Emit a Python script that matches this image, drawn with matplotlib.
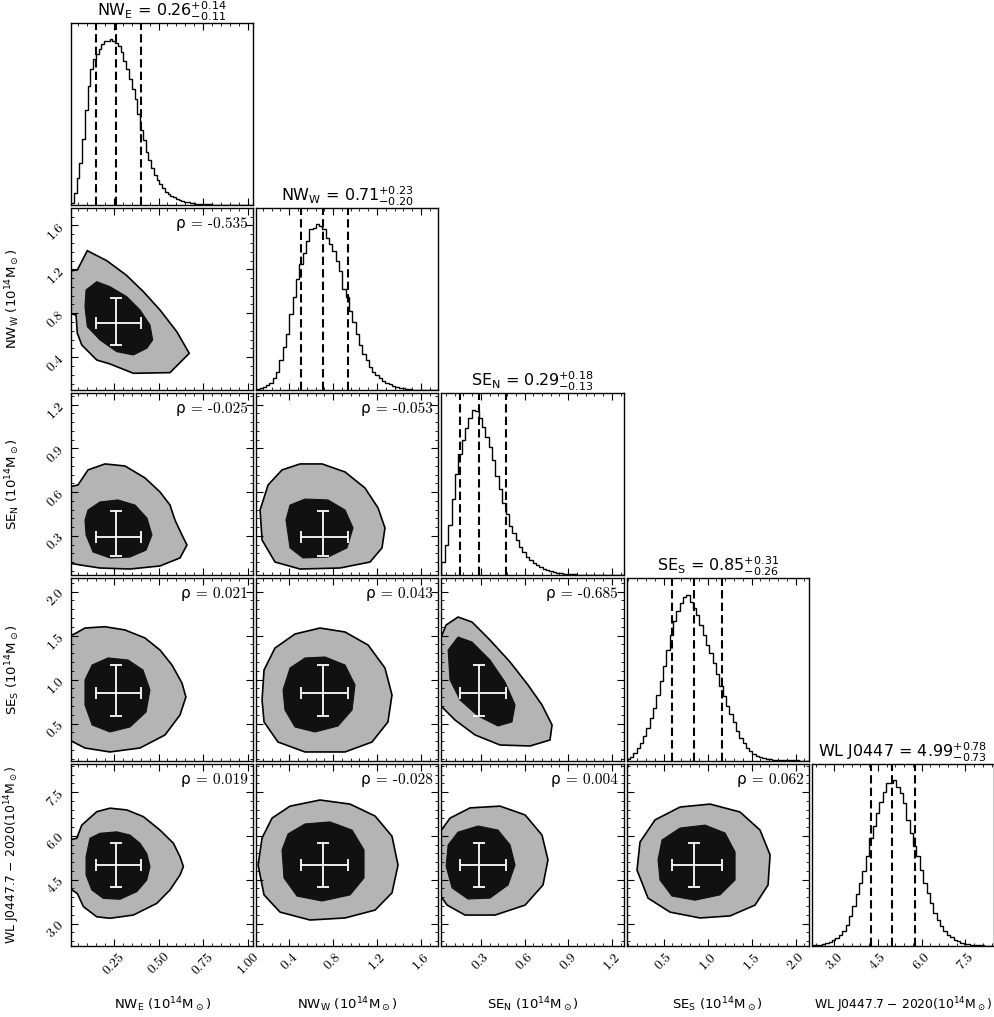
import numpy as np
import matplotlib.pyplot as plt
from matplotlib.ticker import FixedLocator, AutoMinorLocator

plt.rcParams['font.family'] = ['cmr10', 'DejaVu Sans']
plt.rcParams['mathtext.fontset'] = 'dejavusans'
plt.rcParams['axes.unicode_minus'] = False

# variables
labels = [r'NW$_\mathrm{E}$ (10$^{14}$M$_\odot$)', r'NW$_\mathrm{W}$ (10$^{14}$M$_\odot$)',
          r'SE$_\mathrm{N}$ (10$^{14}$M$_\odot$)', r'SE$_\mathrm{S}$ (10$^{14}$M$_\odot$)',
          r'WL J0447.7 $-$ 2020(10$^{14}$M$_\odot$)']
label_sizes = [9.5, 9.5, 9.5, 9.5, 8.9]
short = [r'NW$_\mathrm{E}$', r'NW$_\mathrm{W}$', r'SE$_\mathrm{N}$', r'SE$_\mathrm{S}$', 'WL J0447']
ranges = [(0.01, 1.03), (0.10, 1.76), (0.03, 1.28), (0.08, 2.15), (2.24, 8.48)]
medians = [0.26, 0.71, 0.29, 0.85, 4.99]
err_hi = [0.14, 0.23, 0.18, 0.31, 0.78]
err_lo = [0.11, 0.20, 0.13, 0.26, 0.73]
ticks = [[0.25, 0.50, 0.75, 1.00], [0.4, 0.8, 1.2, 1.6], [0.3, 0.6, 0.9, 1.2],
         [0.5, 1.0, 1.5, 2.0], [3.0, 4.5, 6.0, 7.5]]
ticklabels = [['0.25', '0.50', '0.75', '1.00'], ['0.4', '0.8', '1.2', '1.6'],
              ['0.3', '0.6', '0.9', '1.2'], ['0.5', '1.0', '1.5', '2.0'],
              ['3.0', '4.5', '6.0', '7.5']]

# marginal histograms (relative heights)
hist_nwe = [0.01, 0.07, 0.16, 0.25, 0.40, 0.57, 0.72, 0.82, 0.88, 0.91, 0.94, 0.97, 0.99, 0.99,
            1.00, 0.99, 0.98, 0.96, 0.92, 0.87, 0.82, 0.76, 0.70, 0.64, 0.55, 0.45, 0.39, 0.32,
            0.27, 0.22, 0.18, 0.15, 0.125, 0.10, 0.08, 0.068, 0.055, 0.045, 0.037, 0.03, 0.024,
            0.019, 0.015, 0.012, 0.010, 0.008, 0.006, 0.005, 0.004, 0.003, 0.003, 0.002, 0.002,
            0.002, 0.002, 0.001, 0.001, 0.001, 0.001, 0.001, 0.0, 0.0, 0.0, 0.0, 0.0, 0.0]
hist_nww = [0.004, 0.01, 0.016, 0.03, 0.044, 0.07, 0.11, 0.18, 0.26, 0.34, 0.46, 0.56, 0.67,
            0.76, 0.83, 0.90, 0.97, 0.98, 1.00, 0.99, 0.97, 0.92, 0.88, 0.84, 0.78, 0.72, 0.61,
            0.56, 0.48, 0.41, 0.34, 0.27, 0.22, 0.18, 0.14, 0.11, 0.09, 0.07, 0.054, 0.044,
            0.034, 0.024, 0.02, 0.014, 0.01, 0.006, 0.004, 0.003, 0.002, 0.002, 0.001, 0.001,
            0.0, 0.0, 0.0]
hist_sen = [0.08, 0.18, 0.30, 0.45, 0.60, 0.72, 0.80, 0.87, 0.93, 0.98, 0.97, 0.93, 0.88, 0.82,
            0.76, 0.68, 0.59, 0.51, 0.43, 0.36, 0.29, 0.25, 0.21, 0.17, 0.14, 0.11, 0.09, 0.075,
            0.06, 0.05, 0.04, 0.032, 0.025, 0.02, 0.016, 0.012, 0.01, 0.008, 0.006, 0.005,
            0.004, 0.003, 0.003, 0.002, 0.002, 0.001, 0.001, 0.001, 0.001, 0.0, 0.0, 0.0, 0.0,
            0.0]
hist_ses = [0.008, 0.024, 0.044, 0.075, 0.105, 0.146, 0.196, 0.257, 0.317, 0.398, 0.48, 0.57,
            0.67, 0.76, 0.84, 0.90, 0.95, 0.985, 1.0, 0.955, 0.92, 0.88, 0.82, 0.76, 0.70, 0.65,
            0.59, 0.52, 0.45, 0.39, 0.33, 0.28, 0.23, 0.18, 0.135, 0.105, 0.075, 0.055, 0.04,
            0.028, 0.02, 0.014, 0.01, 0.008, 0.006, 0.004, 0.004, 0.002, 0.002, 0.002, 0.001,
            0.001, 0.0, 0.0, 0.0]
hist_wl = [0.002, 0.004, 0.006, 0.01, 0.016, 0.022, 0.032, 0.046, 0.067, 0.087, 0.127, 0.177,
           0.238, 0.31, 0.38, 0.45, 0.54, 0.65, 0.72, 0.80, 0.87, 0.93, 0.98, 0.98, 1.0, 0.96,
           0.92, 0.86, 0.76, 0.68, 0.60, 0.54, 0.46, 0.38, 0.32, 0.26, 0.20, 0.157, 0.117,
           0.087, 0.067, 0.05, 0.036, 0.026, 0.018, 0.012, 0.008, 0.006, 0.004, 0.002, 0.002,
           0.001, 0.0, 0.0]
hists = [hist_nwe, hist_nww, hist_sen, hist_ses, hist_wl]

# correlation coefficients
rho = {(1, 0): '-0.535', (2, 0): '-0.025', (2, 1): '-0.053',
       (3, 0): '0.021', (3, 1): '0.043', (3, 2): '-0.685',
       (4, 0): '0.019', (4, 1): '-0.028', (4, 2): '0.004', (4, 3): '0.062'}

# contour outlines (outer x, outer y, inner x, inner y)
contours = {
    (1, 0): ([0.0, 0.045, 0.101, 0.210, 0.318, 0.415, 0.508, 0.602, 0.672, 0.564, 0.359, 0.228,
              0.154, 0.070, 0.045, 0.038, 0.0],
             [1.185, 1.194, 1.370, 1.279, 1.149, 0.997, 0.830, 0.632, 0.435, 0.259, 0.253, 0.338,
              0.374, 0.511, 0.618, 0.784, 0.800],
             [0.094, 0.154, 0.228, 0.322, 0.396, 0.452, 0.467, 0.434, 0.359, 0.266, 0.172, 0.101, 0.088],
             [1.012, 1.088, 1.042, 0.951, 0.830, 0.693, 0.557, 0.481, 0.420, 0.450, 0.557, 0.678, 0.860]),
    (2, 0): ([0.0, 0.049, 0.105, 0.200, 0.312, 0.424, 0.508, 0.564, 0.592, 0.631, 0.659, 0.620,
              0.508, 0.340, 0.172, 0.060, 0.0],
             [0.636, 0.650, 0.753, 0.794, 0.780, 0.698, 0.602, 0.512, 0.409, 0.307, 0.238, 0.149,
              0.094, 0.073, 0.080, 0.101, 0.114],
             [0.105, 0.172, 0.273, 0.368, 0.435, 0.463, 0.430, 0.340, 0.228, 0.133, 0.094, 0.088],
             [0.478, 0.533, 0.547, 0.512, 0.423, 0.307, 0.203, 0.155, 0.149, 0.190, 0.307, 0.409]),
    (2, 1): ([0.153, 0.135, 0.208, 0.335, 0.499, 0.700, 0.909, 1.091, 1.210, 1.273, 1.246, 1.137,
              0.863, 0.499, 0.271],
             [0.272, 0.478, 0.650, 0.753, 0.794, 0.794, 0.739, 0.629, 0.492, 0.355, 0.218, 0.121,
              0.080, 0.073, 0.121],
             [0.371, 0.408, 0.545, 0.754, 0.909, 0.982, 0.927, 0.754, 0.526, 0.408],
             [0.409, 0.512, 0.553, 0.547, 0.478, 0.355, 0.218, 0.155, 0.149, 0.218]),
    (3, 0): ([0.0, 0.040, 0.088, 0.200, 0.312, 0.424, 0.508, 0.575, 0.631, 0.653, 0.620, 0.536,
              0.396, 0.228, 0.088, 0.0],
             [1.49, 1.53, 1.585, 1.600, 1.563, 1.472, 1.335, 1.165, 0.960, 0.801, 0.597, 0.370,
              0.222, 0.177, 0.222, 0.313],
             [0.088, 0.128, 0.217, 0.329, 0.413, 0.452, 0.430, 0.340, 0.228, 0.128, 0.088],
             [0.995, 1.165, 1.245, 1.222, 1.108, 0.881, 0.631, 0.461, 0.404, 0.484, 0.711]),
    (3, 1): ([0.153, 0.171, 0.271, 0.453, 0.681, 0.909, 1.119, 1.273, 1.337, 1.300, 1.155, 0.909,
              0.544, 0.298, 0.171],
             [0.768, 1.108, 1.358, 1.517, 1.585, 1.540, 1.392, 1.131, 0.824, 0.518, 0.290, 0.177,
              0.177, 0.290, 0.518],
             [0.344, 0.408, 0.545, 0.727, 0.909, 1.000, 0.973, 0.845, 0.636, 0.453, 0.362],
             [0.881, 1.131, 1.245, 1.256, 1.165, 0.938, 0.654, 0.472, 0.404, 0.461, 0.654]),
    (3, 2): ([0.02, 0.062, 0.144, 0.240, 0.363, 0.501, 0.624, 0.720, 0.789, 0.775, 0.638, 0.432,
              0.261, 0.123, 0.02],
             [1.449, 1.619, 1.710, 1.653, 1.449, 1.199, 0.938, 0.711, 0.484, 0.313, 0.245, 0.256,
              0.370, 0.540, 0.711],
             [0.076, 0.144, 0.240, 0.363, 0.466, 0.535, 0.514, 0.418, 0.281, 0.158, 0.089],
             [1.335, 1.483, 1.426, 1.222, 0.972, 0.711, 0.518, 0.472, 0.586, 0.768, 0.995]),
    (4, 0): ([0.0, 0.042, 0.070, 0.154, 0.228, 0.322, 0.415, 0.508, 0.583, 0.620, 0.639, 0.620,
              0.564, 0.490, 0.359, 0.228, 0.154, 0.079, 0.045, 0.0],
             [5.86, 5.92, 6.37, 6.83, 6.95, 6.89, 6.66, 6.20, 5.75, 5.29, 4.95, 4.66, 4.15, 3.69,
              3.29, 3.18, 3.23, 3.58, 4.03, 4.21],
             [0.116, 0.172, 0.266, 0.340, 0.396, 0.434, 0.452, 0.434, 0.378, 0.284, 0.191, 0.126,
              0.094, 0.094],
             [5.92, 6.09, 6.14, 6.03, 5.75, 5.40, 4.95, 4.49, 4.09, 3.83, 3.86, 4.15, 4.66, 5.29]),
    (4, 1): ([0.117, 0.153, 0.244, 0.408, 0.681, 0.955, 1.183, 1.337, 1.392, 1.337, 1.183, 0.909,
              0.590, 0.317, 0.171],
             [5.00, 5.93, 6.61, 7.02, 7.23, 7.09, 6.68, 5.99, 5.00, 4.05, 3.46, 3.19, 3.12, 3.39, 3.98],
             [0.335, 0.390, 0.545, 0.772, 0.973, 1.082, 1.082, 0.955, 0.700, 0.472, 0.353],
             [5.52, 6.07, 6.41, 6.48, 6.20, 5.52, 4.56, 3.98, 3.77, 3.94, 4.56]),
    (4, 2): ([0.02, 0.089, 0.226, 0.432, 0.604, 0.720, 0.761, 0.727, 0.604, 0.398, 0.192, 0.069, 0.02],
             [6.13, 6.61, 6.96, 7.02, 6.72, 6.03, 5.18, 4.32, 3.63, 3.29, 3.29, 3.63, 3.98],
             [0.076, 0.144, 0.281, 0.418, 0.501, 0.535, 0.487, 0.363, 0.212, 0.103, 0.062],
             [5.69, 6.13, 6.34, 6.20, 5.69, 5.00, 4.32, 3.87, 3.84, 4.22, 4.97]),
    (4, 3): ([0.198, 0.232, 0.403, 0.687, 1.028, 1.368, 1.596, 1.710, 1.687, 1.539, 1.255, 0.914,
              0.573, 0.323],
             [4.83, 5.79, 6.55, 6.99, 7.09, 6.82, 6.20, 5.35, 4.32, 3.63, 3.26, 3.19, 3.39, 3.87],
             [0.437, 0.482, 0.687, 0.971, 1.198, 1.312, 1.312, 1.141, 0.857, 0.596, 0.459],
             [5.18, 5.86, 6.27, 6.37, 6.10, 5.45, 4.49, 3.98, 3.80, 3.94, 4.49]),
}

n = len(labels)
fig, axes = plt.subplots(n, n, figsize=(9.95, 10.17), dpi=100)
plt.subplots_adjust(left=0.0714, right=0.999, bottom=0.0701, top=0.9777,
                    wspace=0.0165, hspace=0.0165)

for i in range(n):
    for j in range(n):
        ax = axes[i, j]
        if j > i:
            ax.axis('off')
            continue
        ax.set_xlim(ranges[j])
        ax.xaxis.set_major_locator(FixedLocator(ticks[j]))
        ax.xaxis.set_minor_locator(AutoMinorLocator(5))
        ax.tick_params(which='both', direction='in', top=True, right=True)
        ax.tick_params(which='major', length=5, width=0.8)
        ax.tick_params(which='minor', length=2.5, width=0.6)
        for s in ax.spines.values():
            s.set_linewidth(1.0)

        if i == j:
            h = hists[i]
            edges = np.linspace(ranges[i][0], ranges[i][1], len(h) + 1)
            ax.stairs(h, edges, color='k', lw=1.0)
            ax.set_ylim(0, 1.1 * max(h))
            ax.set_yticks([])
            for q in [medians[i] - err_lo[i], medians[i], medians[i] + err_hi[i]]:
                ax.axvline(q, color='k', ls='--', lw=1.5, dashes=(4, 2))
            ax.set_title(short[i] + ' = %.2f$^{+%.2f}_{-%.2f}$' % (medians[i], err_hi[i], err_lo[i]),
                         fontsize=11.5, family='DejaVu Sans', pad=3)
        else:
            ax.set_ylim(ranges[i])
            ax.yaxis.set_major_locator(FixedLocator(ticks[i]))
            ax.yaxis.set_minor_locator(AutoMinorLocator(5))
            ox, oy, ix, iy = contours[(i, j)]
            ax.fill(ox, oy, facecolor='#b4b4b4', edgecolor='k', lw=1.2, zorder=1)
            ax.fill(ix, iy, facecolor='#111111', edgecolor='#111111', lw=0.8, zorder=2)
            ax.errorbar(medians[j], medians[i],
                        xerr=[[err_lo[j]], [err_hi[j]]], yerr=[[err_lo[i]], [err_hi[i]]],
                        color='w', lw=1.3, capsize=4, capthick=1.3, zorder=3)
            ax.text(0.97, 0.95, 'ρ = ' + rho[(i, j)], transform=ax.transAxes,
                    ha='right', va='top', fontsize=11, family=['cmr10', 'DejaVu Sans'])

        if i == n - 1:
            ax.set_xticklabels(ticklabels[j], rotation=45, fontsize=10)
            ax.set_xlabel(labels[j], fontsize=label_sizes[j], family='DejaVu Sans')
            ax.xaxis.set_label_coords(0.5, -0.27)
        else:
            ax.set_xticklabels([])
        if j == 0 and i > 0:
            ax.set_yticklabels(ticklabels[i], rotation=45, fontsize=10)
            ax.set_ylabel(labels[i], fontsize=label_sizes[i], family='DejaVu Sans')
            ax.yaxis.set_label_coords(-0.27, 0.5)
        elif i != j:
            ax.set_yticklabels([])

plt.savefig('out.png', dpi=100)
